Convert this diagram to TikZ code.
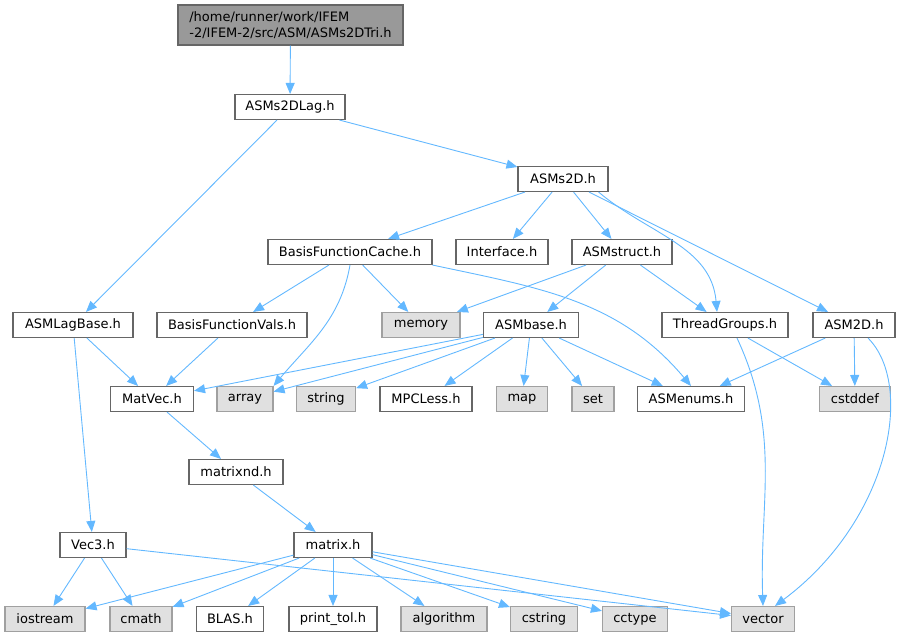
\documentclass[tikz,border=0pt]{standalone}
\usepackage{fontspec}
\setmainfont{DejaVu Sans}
\usetikzlibrary{arrows.meta}

\definecolor{edgeblue}{HTML}{63B8FF}
\definecolor{boxline}{HTML}{666666}
\definecolor{sysline}{HTML}{A0A0A0}
\definecolor{sysfill}{HTML}{E0E0E0}
\definecolor{topfill}{HTML}{999999}

\begin{document}
\begin{tikzpicture}[x=1pt, y=-1pt,
	hdr/.style={draw=boxline, fill=white, line width=1.1pt, inner sep=0pt,
		minimum height=25pt, font=\fontsize{13}{15.5}\selectfont},
	sys/.style={hdr, draw=sysline, fill=sysfill},
	inc/.style={draw=edgeblue, line width=0.9pt, -{Triangle[length=11pt,width=9pt]}}]
	\useasboundingbox (0,0) rectangle (912,637);
	% top file
	\node[hdr, fill=topfill, minimum width=225pt, minimum height=40pt, align=left] (tri) at (290.5,25)
		{/home/runner/work/IFEM\\-2/IFEM-2/src/ASM/ASMs2DTri.h};
	% project headers
	\node[hdr, minimum width=110pt] (lag) at (290,107) {ASMs2DLag.h};
	\node[hdr, minimum width=90pt] (s2d) at (563,179) {ASMs2D.h};
	\node[hdr, minimum width=164pt] (bfc) at (350,252) {BasisFunctionCache.h};
	\node[hdr, minimum width=92pt] (iface) at (502,252) {Interface.h};
	\node[hdr, minimum width=100pt] (struct) at (622,252) {ASMstruct.h};
	\node[hdr, minimum width=120pt] (lagbase) at (73,325) {ASMLagBase.h};
	\node[hdr, minimum width=150pt] (bfv) at (232,325) {BasisFunctionVals.h};
	\node[hdr, minimum width=95pt] (base) at (531,325) {ASMbase.h};
	\node[hdr, minimum width=126pt] (tg) at (725,325) {ThreadGroups.h};
	\node[hdr, minimum width=82pt] (asm2d) at (854,325) {ASM2D.h};
	\node[hdr, minimum width=83pt] (matvec) at (152,399) {MatVec.h};
	\node[hdr, minimum width=92pt] (mpc) at (426,399) {MPCLess.h};
	\node[hdr, minimum width=107pt] (enums) at (691,399) {ASMenums.h};
	\node[hdr, minimum width=94pt] (matrixnd) at (236,472) {matrixnd.h};
	\node[hdr, minimum width=66pt] (vec3) at (93,545) {Vec3.h};
	\node[hdr, minimum width=78pt] (matrix) at (333,545) {matrix.h};
	\node[hdr, minimum width=67pt] (blas) at (230,619) {BLAS.h};
	\node[hdr, minimum width=88pt] (printtol) at (333,619) {print\_tol.h};
	% system headers
	\node[sys, minimum width=78pt] (memory) at (421,325) {memory};
	\node[sys, minimum width=56pt] (array) at (245,399) {array};
	\node[sys, minimum width=59pt] (string) at (326,399) {string};
	\node[sys, minimum width=51pt] (map) at (522,399) {map};
	\node[sys, minimum width=42pt] (set) at (593,399) {set};
	\node[sys, minimum width=71pt] (cstddef) at (855,399) {cstddef};
	\node[sys, minimum width=80pt] (iostream) at (45,619) {iostream};
	\node[sys, minimum width=62pt] (cmath) at (141,619) {cmath};
	\node[sys, minimum width=86pt] (algorithm) at (444,619) {algorithm};
	\node[sys, minimum width=67pt] (cstring) at (544,619) {cstring};
	\node[sys, minimum width=65pt] (cctype) at (635,619) {cctype};
	\node[sys, minimum width=63pt] (vector) at (763,619) {vector};
	% includes
	\draw[inc] (tri) -- (lag);
	\draw[inc] (lag) -- (s2d);
	\draw[inc] (lag) -- (lagbase);
	\draw[inc] (s2d) -- (bfc);
	\draw[inc] (s2d) -- (iface);
	\draw[inc] (s2d) -- (struct);
	\draw[inc] ([xshift=-10pt]s2d.south east) to[out=-40, in=95] ([xshift=-8pt]tg.north);
	\draw[inc] (s2d) -- (asm2d);
	\draw[inc] (bfc) -- (bfv);
	\draw[inc] (bfc) -- (memory);
	\draw[inc] (bfc.south) to[out=-100, in=50] (array.north east);
	\draw[inc] (bfc.south east) to[out=-12, in=130] (enums.north);
	\draw[inc] (struct) -- (memory);
	\draw[inc] (struct) -- (base);
	\draw[inc] (struct) -- (tg);
	\draw[inc] (lagbase) -- (matvec);
	\draw[inc] (lagbase) -- (vec3);
	\draw[inc] (bfv) -- (matvec);
	\draw[inc] (base) -- (matvec);
	\draw[inc] (base) -- (array);
	\draw[inc] (base) -- (string);
	\draw[inc] (base) -- (mpc);
	\draw[inc] (base) -- (map);
	\draw[inc] (base) -- (set);
	\draw[inc] (base) -- (enums);
	\draw[inc] (tg) -- (cstddef);
	\draw[inc] ([xshift=12pt]tg.south) to[out=-65, in=92] (vector.north);
	\draw[inc] (asm2d) -- (enums);
	\draw[inc] (asm2d) -- (cstddef);
	\draw[inc] ([xshift=14pt]asm2d.south) .. controls (915,385) and (890,520) .. ([xshift=12pt]vector.north);
	\draw[inc] (matvec) -- (matrixnd);
	\draw[inc] (matrixnd) -- (matrix);
	\draw[inc] (vec3) -- (iostream);
	\draw[inc] (vec3) -- (cmath);
	\draw[inc] (vec3) -- (vector);
	\draw[inc] (matrix) -- (iostream);
	\draw[inc] (matrix) -- (cmath);
	\draw[inc] (matrix) -- (blas);
	\draw[inc] (matrix) -- (printtol);
	\draw[inc] (matrix) -- (algorithm);
	\draw[inc] (matrix) -- (cstring);
	\draw[inc] (matrix) -- (cctype);
	\draw[inc] (matrix) -- (vector);
\end{tikzpicture}
\end{document}
